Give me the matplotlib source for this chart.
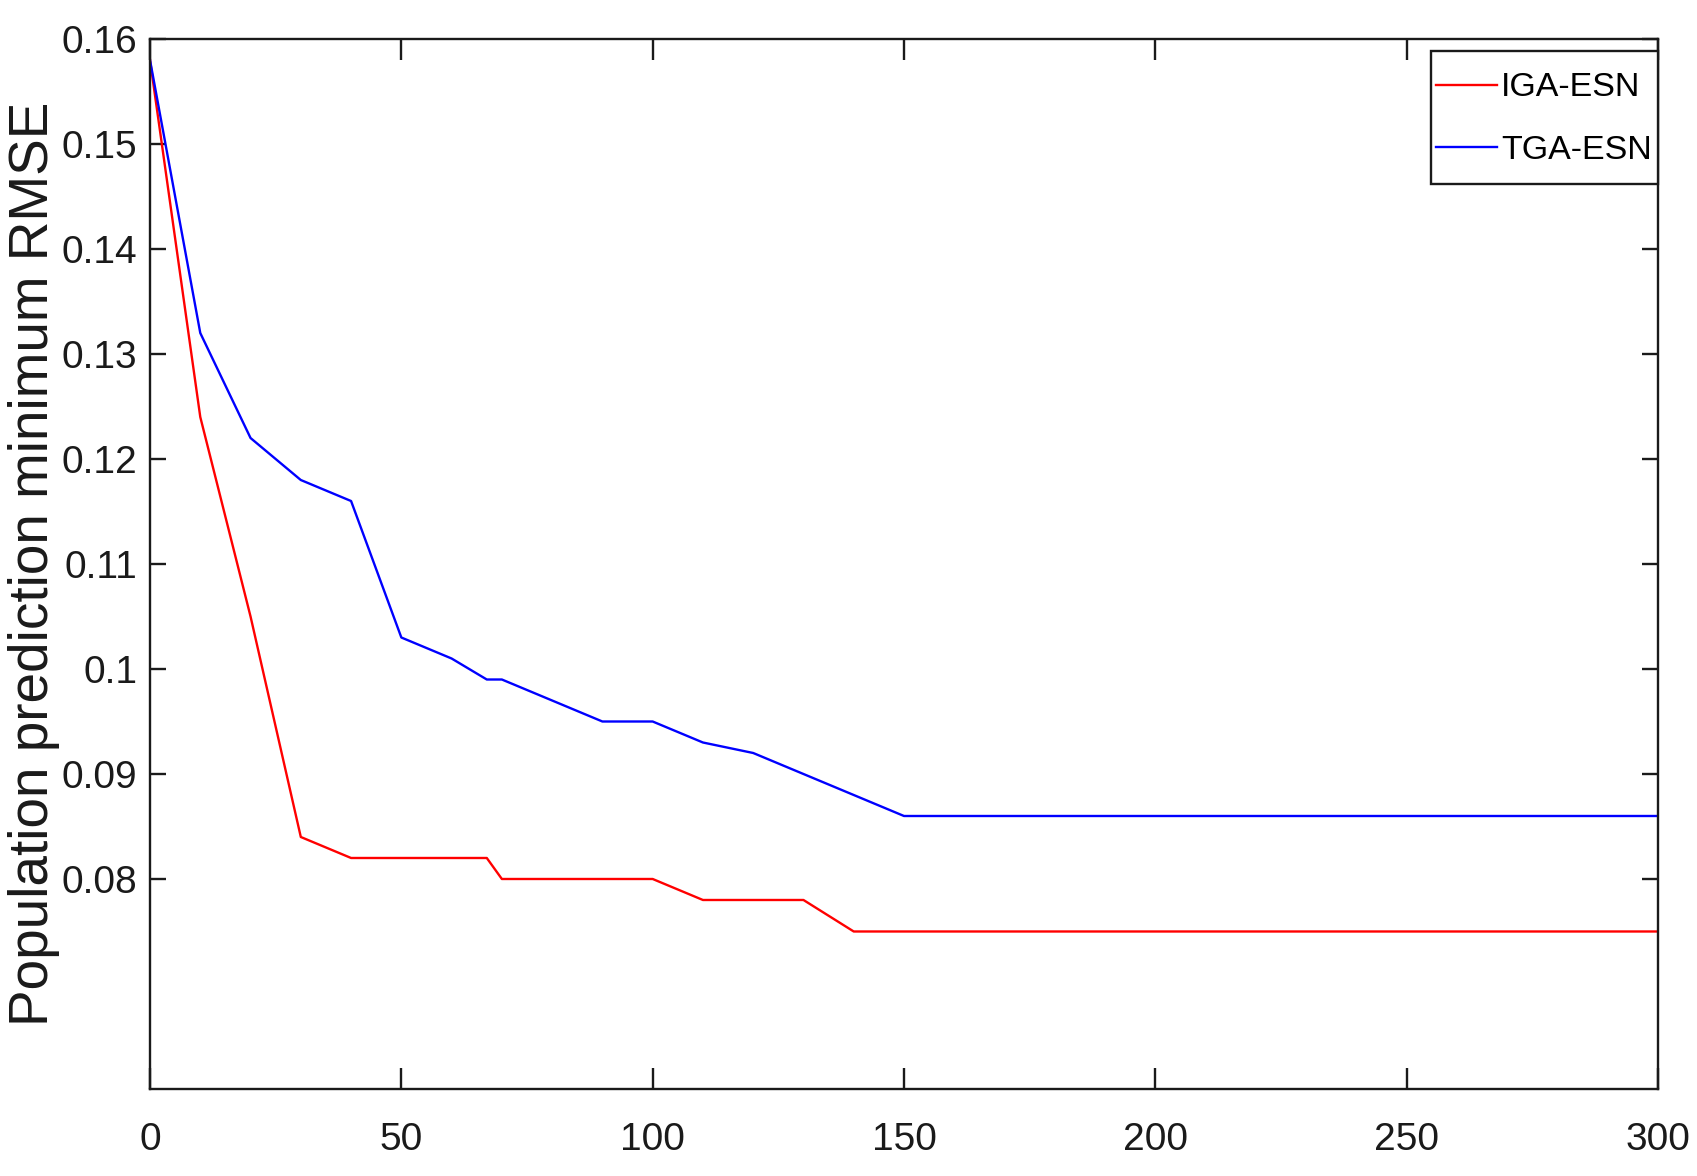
import matplotlib
matplotlib.use("Agg")
import matplotlib.pyplot as plt
from matplotlib.patches import Rectangle

# region DATA
iga_gen = [0, 10, 20, 30, 40, 67, 70, 100, 110, 130, 140, 300]
iga_rmse = [0.158, 0.124, 0.105, 0.084, 0.082, 0.082, 0.080, 0.080, 0.078, 0.078, 0.075, 0.075]

tga_gen = [0, 10, 20, 30, 40, 50, 60, 67, 70, 90, 100, 110, 120, 150, 300]
tga_rmse = [0.158, 0.132, 0.122, 0.118, 0.116, 0.103, 0.101, 0.099, 0.099, 0.095, 0.095, 0.093, 0.092, 0.086, 0.086]

xticks = [0, 50, 100, 150, 200, 250, 300]
yticks = [0.08, 0.09, 0.1, 0.11, 0.12, 0.13, 0.14, 0.15, 0.16]
ytick_labels = ["0.08", "0.09", "0.1", "0.11", "0.12", "0.13", "0.14", "0.15", "0.16"]
# endregion

plt.rcParams['font.family'] = ['Liberation Sans', 'DejaVu Sans']

fig = plt.figure(figsize=(16.97, 11.76), dpi=100, facecolor='white')
ax = fig.add_axes([0.0884, 0.074, 0.8886, 0.8928])

ax.plot(iga_gen, iga_rmse, color='#ff0000', linewidth=1.7, label='IGA-ESN')
ax.plot(tga_gen, tga_rmse, color='#0000ff', linewidth=1.7, label='TGA-ESN')

ax.set_xlim(0, 300)
ax.set_ylim(0.06, 0.16)
ax.set_xticks(xticks)
ax.set_yticks(yticks)
ax.set_yticklabels(ytick_labels)

for sp in ax.spines.values():
    sp.set_color('#1a1a1a')
    sp.set_linewidth(1.7)

ax.tick_params(axis='both', direction='in', colors='#1a1a1a', width=1.7,
               top=True, right=True, labelsize=28, labelcolor='#1a1a1a')
ax.tick_params(axis='x', length=15, pad=24)
ax.tick_params(axis='y', length=11.5, pad=9)

ax.set_ylabel('Population prediction minimum RMSE', fontsize=39.5, color='#1a1a1a')
ax.yaxis.set_label_coords(-0.06, 0.5)

# legend box drawn by hand, matlab pads it unevenly
box = Rectangle((0.8495, 0.8619), 1.0 - 0.8495, 0.9886 - 0.8619, transform=ax.transAxes,
                facecolor='white', edgecolor='#1a1a1a', linewidth=1.7, zorder=4, clip_on=False)
ax.add_patch(box)
leg = ax.legend(loc='upper left', bbox_to_anchor=(0.8495, 0.973), borderaxespad=0,
                fontsize=24.5, handlelength=1.8, handletextpad=0.1,
                labelspacing=0.93, borderpad=0.15, frameon=False)
leg.set_zorder(5)

plt.savefig('out.png', dpi=100, facecolor='white')
plt.close('all')
